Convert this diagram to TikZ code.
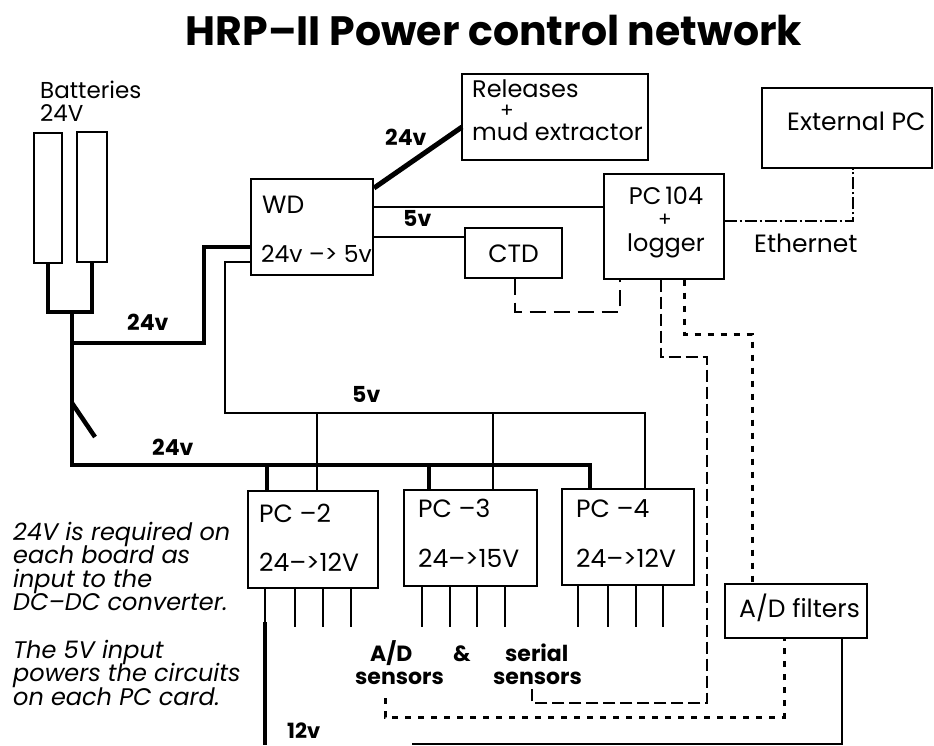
\documentclass[tikz,border=0pt]{standalone}
\usepackage{fontspec}
\setmainfont{Poppins}
\begin{document}
\begin{tikzpicture}[x=1pt,y=-1pt,
  boxwh/.style 2 args={draw,line width=1.3pt,inner sep=0pt,minimum width=#1,minimum height=#2},
  pwr/.style={line width=4.5pt},
  sig/.style={line width=1.3pt},
  w12/.style={line width=1.8pt},
  dsh/.style={line width=1.2pt,dash pattern=on 12pt off 5pt},
  dshc/.style={line width=1.2pt,dash pattern=on 16pt off 8pt},
  dotl/.style={line width=3pt,dash pattern=on 6pt off 7pt},
  eth/.style={line width=1.2pt,dash pattern=on 12pt off 3pt on 2pt off 3pt},
  txt/.style={inner sep=0pt,anchor=base west,font=\fontsize{25}{28}\selectfont},
  txc/.style={inner sep=0pt,anchor=base,font=\fontsize{25}{28}\selectfont},
  plus/.style={inner sep=0pt,anchor=base,font=\fontsize{20}{22}\selectfont},
  lbl/.style={inner sep=0pt,anchor=base west,font=\bfseries\fontsize{22}{24}\selectfont},
  note/.style={inner sep=0pt,anchor=base west,font=\itshape\fontsize{24}{26}\selectfont}
]
\useasboundingbox (0,0) rectangle (934,745);

% title
\node[inner sep=0pt,anchor=base,font=\bfseries\fontsize{41}{44}\selectfont] (title) at (494,45) {HRP–II Power control network};

% boxes
\node[boxwh={28pt}{130pt}] (bat1) at (48,198) {};
\node[boxwh={30pt}{130pt}] (bat2) at (92,197) {};
\node[boxwh={122pt}{96pt}] (WD) at (312,227) {};
\node[boxwh={186pt}{86pt}] (Rel) at (555,117) {};
\node[boxwh={97pt}{50pt}] (CTD) at (513.5,253) {};
\node[boxwh={120pt}{105pt}] (PC104) at (664,226.5) {};
\node[boxwh={170pt}{80pt}] (ExtPC) at (847,128) {};
\node[boxwh={130pt}{97pt}] (PC2) at (313,539.5) {};
\node[boxwh={133pt}{96pt}] (PC3) at (470.5,538) {};
\node[boxwh={132pt}{96pt}] (PC4) at (628,537) {};
\node[boxwh={142pt}{54pt}] (ADF) at (796,611) {};

% box texts
\node[txt,font=\fontsize{23}{26}\selectfont] (tBat1) at (40,98) {Batteries};
\node[txt,font=\fontsize{23}{26}\selectfont] (tBat2) at (40,121) {24V};
\node[txt] (tWD1) at (262,213) {WD};
\node[txt,font=\fontsize{23.5}{26}\selectfont] (tWD2) at (261,262) {24v –> 5v};
\node[txt,font=\fontsize{24}{26}\selectfont] (tRel1) at (472,97) {Releases};
\node[plus] (tRel2) at (507,117) {+};
\node[txt,font=\fontsize{24}{26}\selectfont] (tRel3) at (472,140) {mud extractor};
\node[txc] (tCTD) at (513.5,262) {CTD};
\node[txc,font=\fontsize{24}{26}\selectfont] (tPC1) at (666,204) {PC\,104};
\node[plus] (tPC2) at (665,226) {+};
\node[txc,font=\fontsize{24}{26}\selectfont] (tPC3) at (666,251) {logger};
\node[txt] (tExt) at (787,130) {External PC};
\node[txt] (tEth) at (754,252) {Ethernet};
\node[txt] (tP2a) at (259,522) {PC –2};
\node[txt] (tP2b) at (259,571) {24–>12V};
\node[txt] (tP3a) at (418,517) {PC –3};
\node[txt] (tP3b) at (418,567) {24–>15V};
\node[txt] (tP4a) at (576,517) {PC –4};
\node[txt] (tP4b) at (576,567) {24–>12V};
\node[txt] (tADF) at (739,617) {A/D filters};

% bold labels
\node[lbl] (l24a) at (127,330) {24v};
\node[lbl] (l24b) at (385,145) {24v};
\node[lbl] (l5a) at (403,226) {5v};
\node[lbl] (l5b) at (352,402) {5v};
\node[lbl] (l24c) at (152,455) {24v};
\node[lbl,font=\bfseries\fontsize{21}{24}\selectfont] (l12) at (287,738) {12v};
\node[lbl] (lAD) at (370,661) {A/D};
\node[lbl] (lAmp) at (453,661) {\&};
\node[lbl] (lSer) at (505,661) {serial};
\node[lbl] (lSen1) at (355,684) {sensors};
\node[lbl] (lSen2) at (493,684) {sensors};

% note
\node[note] (n1) at (13,540) {24V is required on};
\node[note] (n2) at (13,563) {each board as};
\node[note] (n3) at (13,587) {input to the};
\node[note] (n4) at (13,610) {DC–DC converter.};
\node[note] (n5) at (13,658) {The 5V input};
\node[note] (n6) at (13,681) {powers the circuits};
\node[note] (n7) at (13,705) {on each PC card.};

% 24V power
\coordinate (jB) at (72,312);
\coordinate (s24) at (72,465);
\coordinate (b24e) at (590,465);
\coordinate (d2t) at (267,465);
\coordinate (d3t) at (429,465);
\coordinate (br) at (72,343);
\coordinate (brc) at (204,247);
\coordinate (sw1) at (72,403);
\coordinate (sw2) at (95,437);
\coordinate (dg1) at (374,188);
\coordinate (dg2) at (462,127);
\draw[pwr] (bat1.south) |- (jB) -| (bat2.south);
\draw[pwr] (jB) -- (s24) -- (b24e) -- (b24e |- PC4.north);
\draw[pwr] (d2t) -- (d2t |- PC2.north);
\draw[pwr] (d3t) -- (d3t |- PC3.north);
\draw[pwr] (br) -| (brc) -- (brc -| WD.west);
\draw[pwr] (sw1) -- (sw2);
\draw[pwr,line width=5pt] (dg1) -- (dg2);

% 5V
\coordinate (v5a) at (251,262);
\coordinate (v5c) at (225,413);
\coordinate (v5e) at (645,413);
\coordinate (d2v) at (317,413);
\coordinate (d3v) at (493,413);
\draw[sig] (v5a) -| (v5c) -- (v5e) -- (v5e |- PC4.north);
\draw[sig] (d2v) -- (d2v |- PC2.north);
\draw[sig] (d3v) -- (d3v |- PC3.north);
\coordinate (w1) at (373,207);
\coordinate (w2) at (373,237);
\draw[sig] (w1) -- (w1 -| PC104.west);
\draw[sig] (w2) -- (w2 -| CTD.west);

% pins
\foreach \x in {265,295,323,351} \draw[sig] (\x,588) -- (\x,627);
\foreach \x in {422,450,477,505} \draw[sig] (\x,586) -- (\x,627);
\foreach \x in {578,608,636,663} \draw[sig] (\x,585) -- (\x,627);

% 12V
\coordinate (t12) at (265,622);
\coordinate (t12e) at (265,745);
\draw[pwr] (t12) -- (t12e);
\coordinate (b12) at (412,744);
\coordinate (adfo) at (842,638);
\draw[w12] (b12) -| (adfo);

% data lines
\coordinate (c1) at (515,312);
\coordinate (c2) at (620,312);
\draw[dshc] (CTD.south -| c1) -- (c1) -- (c2) -- (c2 |- PC104.south);
\coordinate (p1) at (661,357);
\coordinate (p2) at (707,357);
\coordinate (p3) at (707,703);
\coordinate (p4) at (532,703);
\coordinate (p5) at (532,688);
\draw[dsh] (p1 |- PC104.south) -- (p1) -- (p2) -- (p3) -- (p4) -- (p5);
\coordinate (q1) at (684,334);
\coordinate (q2) at (752,334);
\draw[dotl] (q1 |- PC104.south) -- (q1) -- (q2) -- (q2 |- ADF.north);
\coordinate (r1) at (385,698);
\coordinate (r2) at (385,717);
\coordinate (r3) at (784,717);
\draw[dotl] (r1) -- (r2) -- (r3) -- (r3 |- ADF.south);
\coordinate (e1) at (853,221);
\draw[eth] (e1 -| PC104.east) -- (e1) -- (e1 |- ExtPC.south);
\end{tikzpicture}
\end{document}
